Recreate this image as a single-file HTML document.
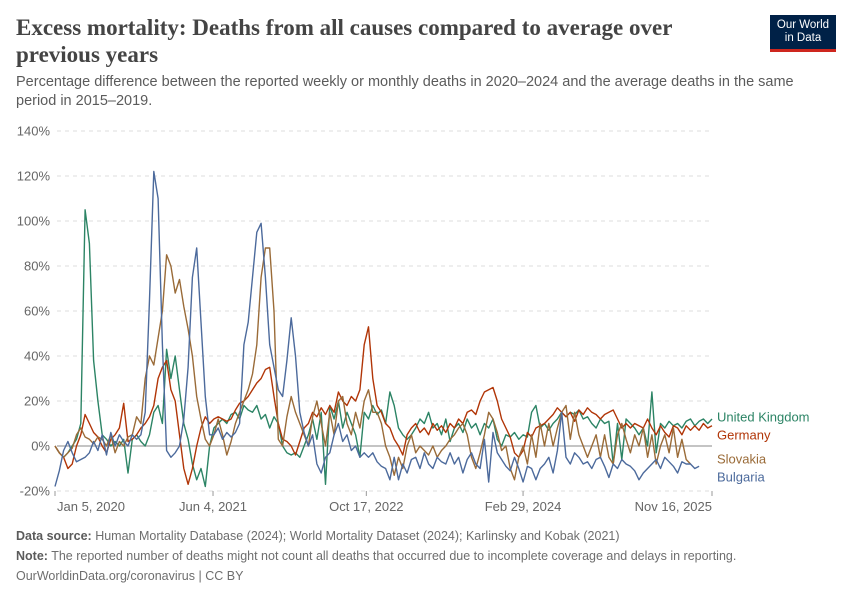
<!DOCTYPE html>
<html><head><meta charset="utf-8"><style>
body{margin:0;background:#fff;font-family:"Liberation Sans",sans-serif;}
#wrap{position:relative;width:850px;height:600px;overflow:hidden;}
.t{position:absolute;margin:0;}
</style></head><body>
<div id="wrap">
<h1 class="t" style="left:16px;top:14px;width:700px;font-family:'Liberation Serif',serif;font-size:23px;line-height:27px;font-weight:bold;color:#444;">Excess mortality: Deaths from all causes compared to average over previous years</h1>
<div class="t" style="left:16px;top:73px;width:810px;font-size:14.5px;line-height:19px;color:#5b5b5b;">Percentage difference between the reported weekly or monthly deaths in 2020–2024 and the average deaths in the same period in 2015–2019.</div>
<div class="t" style="left:770px;top:15px;width:66px;height:37px;background:#002147;color:#fff;font-size:11.5px;line-height:13px;text-align:center;padding-top:4px;box-sizing:border-box;border-bottom:3px solid #ce261e;">Our World<br>in Data</div>
<svg id="chart" width="850" height="600" style="position:absolute;left:0;top:0"></svg>
<div class="t" style="left:16px;top:529px;font-size:12.5px;color:#6e6e6e;"><b style="color:#5b5b5b">Data source:</b> Human Mortality Database (2024); World Mortality Dataset (2024); Karlinsky and Kobak (2021)</div>
<div class="t" style="left:16px;top:549px;font-size:12.5px;color:#6e6e6e;"><b style="color:#5b5b5b">Note:</b> The reported number of deaths might not count all deaths that occurred due to incomplete coverage and delays in reporting.</div>
<div class="t" style="left:16px;top:569px;font-size:12.5px;color:#6e6e6e;">OurWorldinData.org/coronavirus | CC BY</div>
</div>
<script>
const yTicks=[-20,0,20,40,60,80,100,120,140];
const xTickLabels=["Jan 5, 2020","Jun 4, 2021","Oct 17, 2022","Feb 29, 2024","Nov 16, 2025"];
const xTickIdx=[0,36.8,72.5,109,153];
const seriesNames=["United Kingdom","Germany","Slovakia","Bulgaria"];
const uk=[0,-3,-5,-3,0,3,10,105,90,38,20,5,3,0,2,0,3,-12,3,5,2,0,5,15,18,10,43,30,40,25,10,3,-8,-15,-10,-18,0,8,10,12,10,14,15,12,18,16,15,18,12,14,8,13,10,0,-3,-4,-3,-5,0,5,12,3,15,-17,18,12,20,8,15,10,5,-5,15,12,18,14,16,10,24,18,8,5,3,5,8,12,10,15,8,10,5,12,2,8,10,6,12,8,10,5,10,8,12,3,0,5,4,6,3,5,4,15,18,8,10,7,10,12,15,13,15,14,16,12,13,10,8,12,10,11,-8,10,-6,12,10,8,5,8,0,24,-3,10,8,11,9,10,8,11,12,9,11,12,10,12];
const germany=[0,-3,-5,-10,-8,0,5,14,10,6,4,0,-3,3,5,8,19,2,3,5,8,10,13,18,30,35,38,25,20,5,-10,-17,-10,0,8,13,10,12,13,12,11,12,16,19,20,22,25,28,30,34,35,22,10,3,2,0,-4,2,8,10,15,13,17,14,18,15,24,20,18,22,20,25,45,53,30,18,15,10,8,3,0,-4,5,8,10,6,8,5,10,7,9,6,10,8,12,10,15,16,14,20,24,25,26,20,12,8,4,-3,-5,-2,6,4,8,9,10,12,14,17,15,13,15,11,16,14,17,15,14,12,14,15,16,12,8,10,8,10,9,8,12,8,5,9,6,4,9,8,5,9,7,9,7,10,8,9];
const slovakia=[0,-3,-5,-3,-1,5,8,4,3,1,4,3,0,5,-3,2,0,4,5,13,10,30,40,36,48,60,85,80,68,74,62,52,40,22,12,3,0,5,12,5,-4,2,10,15,20,25,32,45,75,88,88,60,3,0,13,22,15,10,5,0,13,20,10,0,15,5,20,22,10,5,15,8,20,25,15,15,10,0,-5,-13,-5,-10,0,5,-3,0,-2,-4,0,-5,-2,0,3,5,8,10,5,-5,-10,-3,5,15,12,6,-2,0,-10,-15,-5,0,-8,5,-5,10,0,10,0,8,15,18,3,15,5,0,-5,0,5,-5,5,-5,-8,5,10,3,-3,5,0,8,-5,5,-8,0,5,-3,8,-5,3,-6,-8];
const bulgaria=[-18,-11,-2,2,-3,-7,-6,-5,-3,2,-2,5,-4,6,0,5,2,0,5,3,5,15,65,122,110,45,-2,-5,-3,0,12,35,75,88,55,22,5,5,8,3,6,4,6,10,45,55,75,95,99,75,45,35,25,22,38,57,40,15,6,0,5,-8,-12,-5,-3,5,10,2,5,-2,0,-5,-3,-5,-3,-7,-9,-10,-15,-5,-15,-8,-12,-6,-5,-10,-3,-8,-10,-5,-7,-8,-3,-8,-5,-12,-6,-3,-8,-10,3,-16,6,-3,-6,-9,-11,-5,-10,-16,-9,-10,-15,-10,-8,-5,-12,-2,15,-5,-8,-3,-5,-8,-7,-10,-6,-5,-9,-14,-8,-10,-6,-8,-9,-11,-15,-12,-10,-8,-6,-10,-5,-7,-9,-12,-7,-8,-8,-10,-9];
const colors=["#2c8465","#b13507","#9a6b38","#4c6a9c"];
const labelY=[417,435,459,477];

const X0=55,X1=712,NMAX=153;
const xS=i=>X0+i*(X1-X0)/NMAX;
const yS=v=>446-v*2.25;
const svg=document.getElementById('chart');
const NS='http://www.w3.org/2000/svg';
function mk(tag,attrs){const e=document.createElementNS(NS,tag);for(const k in attrs)e.setAttribute(k,attrs[k]);svg.appendChild(e);return e;}
yTicks.forEach(v=>{
  const l=mk('line',{x1:57,x2:712,y1:yS(v),y2:yS(v),stroke:v===0?'#a0a0a0':'#dddddd','stroke-width':v===0?1.2:1,'stroke-dasharray':v===0?'':'4,4'});
  
  
  const t=mk('text',{x:50,y:yS(v)+4.5,'text-anchor':'end','font-size':13,fill:'#666','font-family':'Liberation Sans, sans-serif'});
  t.textContent=v+'%';
  
  
});
xTickLabels.forEach((s,k)=>{
  const x=xS(xTickIdx[k]);
  const tk=mk('line',{x1:x,x2:x,y1:491,y2:496,stroke:'#999'});
  
  
  const anchor=k===0?'start':(k===xTickLabels.length-1?'end':'middle');
  const t=mk('text',{x:k===0?57:x,y:511,'text-anchor':anchor,'font-size':13,fill:'#666','font-family':'Liberation Sans, sans-serif'});
  t.textContent=s;
  
  
});
[uk,germany,slovakia,bulgaria].forEach((arr,si)=>{
  const d=arr.map((v,i)=>(i?'L':'M')+xS(i).toFixed(1)+','+yS(v).toFixed(1)).join('');
  const p=mk('path',{d:d,fill:'none',stroke:colors[si],'stroke-width':1.4,'stroke-linejoin':'round'});
  
  
  const t=mk('text',{x:717,y:labelY[si]+4.5,'font-size':13,fill:colors[si],'font-family':'Liberation Sans, sans-serif'});
  t.textContent=seriesNames[si];
  
  
});
</script>
</body></html>
